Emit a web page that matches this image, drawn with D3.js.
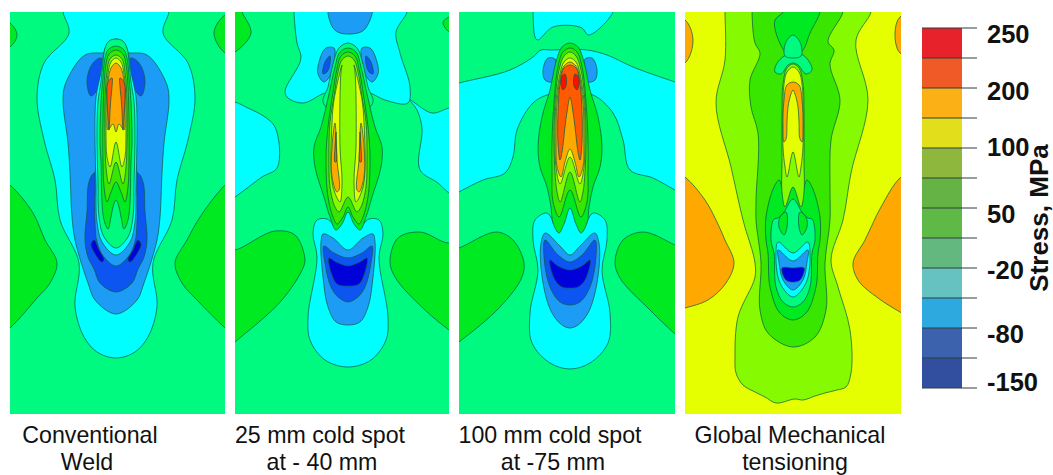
<!DOCTYPE html>
<html>
<head>
<meta charset="utf-8">
<script src="https://cdn.jsdelivr.net/npm/d3@7"></script>
<style>
  html, body { margin: 0; padding: 0; background: #fff; overflow: hidden; }
  svg { display: block; }
  text { font-family: "Liberation Sans", Arial, sans-serif; fill: #111; }
</style>
</head>
<body>
<svg id="chart" width="1053" height="475"></svg>
<script>
// stress bands, low to high
const bandColors = ['#0000d8', '#0a55f0', '#1e9cf5', '#00ffff', '#00fa80', '#00ea20',
  '#38e600', '#86fa00', '#e6ff00', '#ffa800', '#ff5a00', '#ff1000'];
const legendColors = ['#e8202c', '#f05a28', '#fbb017', '#e2de1a', '#8db83e', '#65b345',
  '#5eb947', '#62b87f', '#66c2c0', '#2fa9df', '#3c62ad', '#33509f'];
const legendLabels = ['250', '200', '100', '50', '-20', '-80', '-150'];
const legendLabelAt = [0.2, 2.1, 3.95, 6.2, 8.05, 10.2, 11.8];

const captions = [
  ['Conventional', 'Weld'],
  ['25 mm cold spot', 'at - 40 mm'],
  ['100 mm cold spot', 'at -75 mm'],
  ['Global Mechanical', 'tensioning']
];

// transverse position from weld line, mm-ish, per panel
const xDomains = [[-106, 109], [-113, 101], [-111, 105], [-108, 108]];
const backgroundBands = [4, 4, 4, 8];

// each contour: [band, 's' mirrored outline | 't' mirrored twin | 'f' free, points [x, y]]
const conventionalContours = [
  [5, 'f', [[-125, 160], [-106, 173], [-83, 201], [-71, 228], [-59, 251], [-66, 271], [-79, 286], [-106, 316], [-125, 330]]],
  [5, 'f', [[125, 160], [109, 173], [84, 205], [71, 228], [59, 251], [66, 271], [81, 288], [109, 316], [125, 330]]],
  [5, 'f', [[-125, 5], [-106, 11], [-99, 23], [-106, 35], [-125, 40]]],
  [5, 'f', [[125, 0], [109, 3], [98, 21], [109, 41], [125, 45]]],
  [3, 's', [[0, -8], [53, -8], [53, 0], [47, 21], [72, 51], [79, 85], [72, 128], [61, 168], [56, 208], [37, 251], [41, 295], [32, 325], [19, 340], [0, 346]]],
  [2, 's', [[0, 42], [14, 41], [31, 43], [51, 73], [53, 88], [48, 131], [46, 161], [44, 205], [41, 228], [28, 271], [21, 288], [0, 302]]],
  [1, 't', [[15, 46], [20, 48], [26, 56], [29, 71], [25, 84], [20, 80], [15, 70]]],
  [1, 's', [[0, 158], [22, 161], [27, 170], [29, 200], [31, 228], [28, 245], [22, 257], [16, 271], [0, 280]]],
  [0, 't', [[22, 228], [25, 232], [22, 240], [14, 250], [12, 248], [17, 238]]],
  [2, 's', [[0, 140], [18, 150], [21, 180], [21, 210], [19, 230], [12, 245], [0, 254]]],
  [3, 's', [[0, 27], [7, 30], [12, 40], [15, 60], [20, 85], [21, 130], [20, 170], [19, 210], [14, 230], [0, 243]]],
  [4, 's', [[0, 27], [7, 29], [11, 36], [13, 50], [15, 70], [18, 90], [19, 130], [18, 170], [17, 205], [12, 225], [0, 236]]],
  [5, 's', [[0, 34], [8, 38], [11, 46], [13, 65], [15, 90], [16, 130], [15, 150], [14, 190], [12, 208], [8, 217], [5, 205], [3, 195], [0, 188]]],
  [6, 's', [[0, 38], [7, 42], [10, 52], [12, 75], [13, 110], [13, 150], [12, 175], [9, 190], [5, 180], [0, 170]]],
  [7, 's', [[0, 43], [6, 47], [9, 60], [11, 90], [11, 130], [10, 155], [7, 172], [0, 150]]],
  [8, 's', [[0, 46], [5, 50], [8, 62], [10, 90], [10, 120], [9, 145], [6, 155], [0, 130]]],
  [9, 's', [[0, 51], [5, 56], [8, 70], [9, 100], [8, 118], [3, 112], [0, 120]]],
  [10, 't', [[4, 66], [8, 70], [9, 85], [8, 105], [7, 118], [6, 100], [5, 85], [4, 75]]]
];

const coldSpot25Contours = [
  [3, 'f', [[-54, -8], [-54, 0], [-51, 31], [-47, 46], [-63, 80], [-60, 86], [-45, 91], [-23, 81], [0, 78], [22, 81], [37, 88], [60, 91], [62, 75], [52, 41], [48, 20], [59, 0], [59, -8]]],
  [2, 'f', [[-19, -6], [-15, 16], [-8, 21], [10, 21], [17, 17], [24, -6]]],
  [3, 'f', [[-125, 88], [-113, 90], [-100, 96], [-83, 105], [-73, 115], [-71, 156], [-86, 165], [-113, 185], [-125, 192]]],
  [3, 'f', [[62, 88], [69, 98], [74, 116], [72, 158], [90, 171], [101, 181], [118, 190], [118, 92], [101, 96], [84, 101]]],
  [5, 'f', [[-125, -6], [-108, -6], [-106, 0], [-97, 21], [-113, 40], [-125, 44]]],
  [5, 'f', [[118, 0], [101, 5], [95, 10], [101, 20], [118, 24]]],
  [5, 'f', [[-125, 238], [-113, 238], [-73, 219], [-53, 223], [-43, 248], [-45, 256], [-66, 288], [-113, 330], [-125, 340]]],
  [5, 'f', [[118, 225], [101, 231], [72, 220], [50, 226], [42, 250], [47, 265], [77, 298], [101, 318], [118, 330]]],
  [3, 's', [[0, 200], [11, 215], [21, 207], [31, 208], [35, 221], [31, 245], [40, 305], [38, 328], [23, 348], [0, 355]]],
  [2, 's', [[0, 238], [15, 226], [25, 222], [27, 230], [25, 265], [20, 295], [12, 310], [0, 313]]],
  [1, 's', [[0, 246], [14, 241], [24, 234], [23, 251], [17, 275], [10, 285], [0, 290]]],
  [0, 's', [[0, 254], [12, 250], [19, 246], [16, 263], [11, 272], [0, 274]]],
  [2, 't', [[14, 36], [22, 36], [29, 50], [30, 62], [24, 70], [18, 64], [14, 50]]],
  [1, 't', [[18, 44], [23, 50], [25, 62], [21, 60], [18, 52]]],
  [4, 's', [[0, 31], [9, 36], [15, 52], [20, 75], [25, 90], [15, 100], [0, 100]]],
  [5, 's', [[0, 36], [8, 40], [13, 55], [19, 82], [27, 115], [34, 135], [33, 155], [24, 185], [18, 205], [12, 218], [6, 212], [0, 200]]],
  [6, 's', [[0, 40], [7, 44], [11, 57], [15, 80], [20, 115], [22, 145], [20, 185], [15, 205], [11, 212], [5, 205], [0, 195]]],
  [7, 's', [[0, 44], [6, 48], [10, 60], [14, 85], [18, 110], [19, 145], [18, 175], [13, 195], [9, 200], [0, 185]]],
  [8, 't', [[6, 53], [14, 88], [16, 111], [15, 175], [8, 190], [6, 170], [8, 135], [7, 60]]],
  [9, 't', [[13, 111], [16, 135], [16, 165], [11, 180], [9, 178], [11, 148], [12, 121]]],
  [10, 't', [[12, 120], [13, 135], [13, 150], [12, 150], [12, 130]]]
];

const coldSpot100Contours = [
  [3, 'f', [[-37, -8], [-37, 0], [-33, 28], [-17, 15], [12, 16], [18, 23], [43, 0], [43, -8]]],
  [3, 'f', [[-125, 75], [-111, 71], [-60, 58], [-37, 45], [-29, 38], [-20, 38], [17, 38], [37, 43], [63, 55], [105, 70], [120, 75], [120, 185], [105, 178], [83, 166], [60, 158], [53, 128], [43, 101], [23, 83], [0, 81], [-23, 83], [-37, 91], [-53, 118], [-57, 145], [-65, 161], [-87, 168], [-111, 180], [-125, 188]]],
  [5, 'f', [[-125, 240], [-111, 236], [-73, 220], [-57, 228], [-46, 251], [-48, 265], [-70, 295], [-111, 330], [-125, 340]]],
  [5, 'f', [[120, 240], [105, 233], [73, 220], [53, 228], [45, 251], [50, 266], [80, 298], [105, 322], [120, 335]]],
  [3, 's', [[0, 195], [12, 217], [23, 201], [35, 208], [37, 228], [32, 258], [40, 301], [38, 331], [20, 351], [0, 357]]],
  [2, 's', [[0, 243], [10, 234], [25, 221], [29, 231], [27, 271], [18, 301], [8, 313], [0, 316]]],
  [1, 's', [[0, 250], [12, 243], [25, 228], [26, 245], [20, 275], [10, 290], [0, 293]]],
  [0, 's', [[0, 258], [12, 254], [20, 248], [15, 268], [8, 275], [0, 276]]],
  [2, 't', [[15, 47], [22, 46], [27, 58], [25, 68], [18, 70], [15, 60]]],
  [5, 's', [[0, 31], [8, 35], [14, 50], [20, 78], [28, 105], [32, 135], [30, 155], [23, 175], [19, 195], [17, 211], [11, 221], [6, 212], [0, 196]]],
  [6, 's', [[0, 36], [7, 40], [12, 55], [16, 90], [18, 130], [18, 160], [17, 190], [11, 205], [0, 178]]],
  [7, 's', [[0, 40], [6, 44], [11, 58], [15, 90], [16, 130], [15, 160], [13, 180], [10, 190], [0, 160]]],
  [8, 's', [[0, 46], [6, 50], [10, 62], [14, 90], [15, 130], [14, 155], [10, 172], [0, 145]]],
  [9, 's', [[0, 50], [6, 54], [9, 62], [13, 90], [14, 130], [13, 155], [9, 165], [5, 150], [0, 137]]],
  [10, 's', [[0, 53], [6, 56], [10, 72], [12, 100], [12, 130], [10, 148], [8, 140], [5, 115], [3, 100], [0, 85]]],
  [11, 't', [[5, 62], [8, 64], [9, 72], [7, 78], [4, 74]]]
];

const globalTensionContours = [
  [9, 'f', [[-125, 5], [-108, 8], [-100, 28], [-108, 51], [-125, 55]]],
  [9, 'f', [[125, 0], [107, 5], [102, 21], [107, 41], [125, 45]]],
  [9, 'f', [[-125, 155], [-108, 165], [-88, 188], [-77, 208], [-68, 228], [-59, 251], [-67, 271], [-85, 288], [-108, 296], [-125, 300]]],
  [9, 'f', [[125, 155], [107, 166], [88, 195], [72, 228], [60, 251], [65, 268], [85, 286], [107, 300], [125, 310]]],
  [7, 'f', [[78, -8], [78, 0], [63, 28], [75, 88], [58, 161], [50, 208], [38, 248], [45, 275], [57, 318], [58, 361], [53, 375], [44, 378], [32, 381], [22, 384], [10, 388], [2, 387], [-17, 391], [-28, 385], [-38, 380], [-50, 373], [-57, 361], [-58, 345], [-55, 305], [-38, 265], [-38, 251], [-50, 208], [-62, 155], [-77, 91], [-68, 48], [-68, 0], [-68, -8]]],
  [6, 'f', [[50, -8], [50, 0], [35, 30], [41, 38], [37, 52], [47, 88], [38, 128], [37, 175], [37, 208], [32, 251], [33, 298], [22, 325], [0, 335], [-25, 321], [-33, 298], [-32, 251], [-37, 208], [-37, 188], [-35, 121], [-42, 95], [-43, 68], [-33, 41], [-38, 31], [-41, 0], [-41, -8]]],
  [5, 'f', [[-10, -8], [-10, 0], [-18, 8], [-17, 21], [-7, 41], [0, 45], [10, 38], [17, 21], [27, 0], [27, -8]]],
  [4, 'f', [[-7, 43], [-17, 53], [-18, 60], [-12, 62], [-5, 53], [0, 51], [5, 53], [13, 62], [19, 58], [10, 43]]],
  [4, 's', [[0, 23], [7, 30], [8, 44], [0, 46]]],
  [5, 's', [[0, 170], [8, 185], [14, 168], [19, 175], [27, 205], [27, 228], [25, 241], [23, 275], [13, 301], [0, 308]]],
  [4, 's', [[0, 187], [9, 200], [15, 206], [19, 207], [22, 228], [19, 241], [17, 275], [10, 290], [0, 295]]],
  [5, 't', [[7, 200], [13, 205], [14, 215], [9, 223], [6, 215]]],
  [3, 's', [[0, 241], [15, 230], [17, 241], [13, 271], [0, 285]]],
  [2, 's', [[0, 249], [15, 238], [14, 250], [10, 268], [0, 278]]],
  [0, 's', [[0, 256], [11, 256], [7, 268], [0, 270]]],
  [7, 's', [[0, 52], [6, 56], [10, 72], [11, 100], [11, 150], [11, 180], [8, 195], [0, 175]]],
  [8, 's', [[0, 55], [6, 60], [9, 72], [10, 100], [10, 135], [8, 155], [6, 165], [0, 140]]],
  [9, 's', [[0, 70], [6, 73], [9, 88], [10, 115], [9, 130], [7, 127], [6, 110], [5, 95], [2, 82], [0, 78]]]
];

const panelContours = [conventionalContours, coldSpot25Contours, coldSpot100Contours, globalTensionContours];

const svg = d3.select('#chart');
const defs = svg.append('defs');
defs.append('filter').attr('id', 'soft')
  .append('feGaussianBlur').attr('stdDeviation', 0.45);

const panelLeft = [10, 235, 459, 685];
const panelRight = [225, 449, 675, 901];
const panelTop = 12;
const panelBottom = 414;

const bandColor = d3.scaleOrdinal().domain(d3.range(bandColors.length)).range(bandColors);
const yScale = d3.scaleLinear().domain([0, 402]).range([panelTop, panelBottom]);

const mirror = pts => pts.map(([x, y]) => [-x, y]);

// outline of a contour as closed rings
const ringsOf = ([, kind, pts]) => {
  if (kind === 't') return [pts, mirror(pts)];
  if (kind === 'f') return [pts];
  const body = pts.filter(p => p[0] !== 0);
  const other = mirror(body).reverse();
  const head = pts[0][0] === 0 ? [pts[0]] : [];
  const tail = pts[pts.length - 1][0] === 0 ? [pts[pts.length - 1]] : [];
  return [[...head, ...body, ...tail, ...other]];
};

panelContours.forEach((contours, i) => {
  const xScale = d3.scaleLinear().domain(xDomains[i]).range([panelLeft[i], panelRight[i]]);
  const line = d3.line()
    .x(d => xScale(d[0]))
    .y(d => yScale(d[1]))
    .curve(d3.curveCatmullRomClosed.alpha(0.6));

  defs.append('clipPath').attr('id', `clip${i}`)
    .append('rect')
    .attr('x', panelLeft[i]).attr('y', panelTop)
    .attr('width', panelRight[i] - panelLeft[i])
    .attr('height', panelBottom - panelTop);

  const g = svg.append('g')
    .attr('clip-path', `url(#clip${i})`)
    .append('g')
    .attr('filter', 'url(#soft)');

  g.append('rect')
    .attr('x', panelLeft[i]).attr('y', panelTop)
    .attr('width', panelRight[i] - panelLeft[i])
    .attr('height', panelBottom - panelTop)
    .attr('fill', bandColor(backgroundBands[i]));

  contours.forEach(c => {
    g.selectAll(null)
      .data(ringsOf(c))
      .join('path')
      .attr('d', line)
      .attr('fill', bandColor(c[0]))
      .attr('stroke', '#0a5a46')
      .attr('stroke-opacity', 0.8)
      .attr('stroke-width', 0.9);
  });
});

// captions
const captionX = [[90, 87], [320, 322], [550, 553], [790, 795]];
captions.forEach((lines, i) => {
  lines.forEach((txt, j) => {
    svg.append('text')
      .attr('x', captionX[i][j])
      .attr('y', 443 + j * 26.8)
      .attr('text-anchor', 'middle')
      .attr('font-size', 23.2)
      .text(txt);
  });
});

// legend
const legendY = d3.scaleBand().domain(d3.range(legendColors.length)).range([28, 388]);
const legendTick = d3.scaleLinear().domain([0, legendColors.length]).range([28, 388]);

const legend = svg.append('g').attr('filter', 'url(#soft)');
legend.selectAll('rect')
  .data(legendColors)
  .join('rect')
  .attr('x', 922)
  .attr('y', (d, i) => legendY(i))
  .attr('width', 40)
  .attr('height', legendY.bandwidth())
  .attr('fill', d => d);

legend.selectAll('line')
  .data(d3.range(legendColors.length + 1))
  .join('line')
  .attr('x1', 922)
  .attr('x2', 977)
  .attr('y1', d => legendTick(d))
  .attr('y2', d => legendTick(d))
  .attr('stroke', '#2c3e3e')
  .attr('stroke-width', 1);

svg.selectAll('.legend-label')
  .data(legendLabels)
  .join('text')
  .attr('class', 'legend-label')
  .attr('x', 987)
  .attr('y', (d, i) => legendTick(legendLabelAt[i]) + 9)
  .attr('font-size', 25.5)
  .attr('font-weight', 'bold')
  .text(d => d);

svg.append('text')
  .attr('transform', 'translate(1047.5,218) rotate(-90)')
  .attr('text-anchor', 'middle')
  .attr('font-size', 26)
  .attr('font-weight', 'bold')
  .text('Stress, MPa');
</script>
</body>
</html>
